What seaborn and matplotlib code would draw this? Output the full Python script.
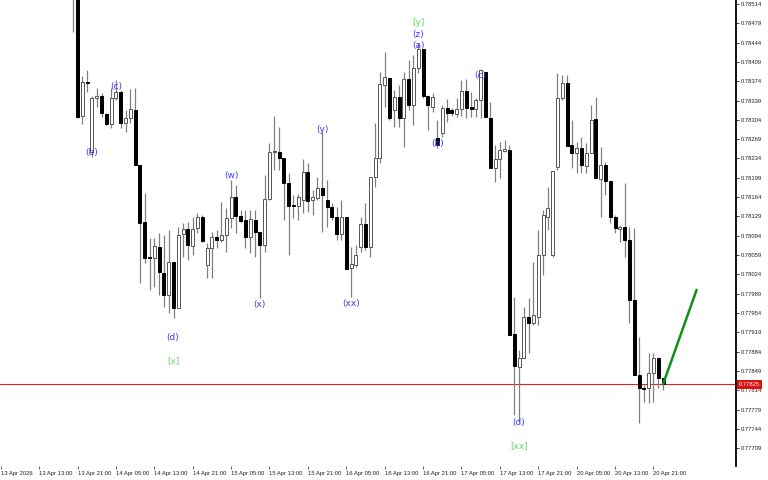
import numpy as np
import pandas as pd
import matplotlib
matplotlib.use("Agg")
import matplotlib.pyplot as plt
import matplotlib.transforms as mtransforms
import seaborn as sns

# ---- data (hourly OHLC, bar index 1 = 13 Apr 20:00) ----
bars = list(range(1, 125))
opens = [0.78566, 0.78527, 0.78311, 0.78372, 0.78246, 0.78344, 0.78347, 0.78315, 0.78297, 0.78344,
         0.78355, 0.78298, 0.78307, 0.78322, 0.78222, 0.78119, 0.78056, 0.78054, 0.78074, 0.78027,
         0.77987, 0.78046, 0.77963, 0.78097, 0.78106, 0.78075, 0.78108, 0.78128, 0.78041, 0.78072,
         0.78092, 0.78086, 0.78095, 0.78126, 0.78164, 0.78130, 0.78123, 0.78092, 0.78123, 0.78101,
         0.78077, 0.78161, 0.78246, 0.78246, 0.78235, 0.78190, 0.78150, 0.78148, 0.78159, 0.78210,
         0.78159, 0.78162, 0.78181, 0.78159, 0.78146, 0.78128, 0.78097, 0.78128, 0.78036, 0.78041,
         0.78074, 0.78115, 0.78074, 0.78200, 0.78235, 0.78367, 0.78380, 0.78322, 0.78345, 0.78307,
         0.78378, 0.78331, 0.78398, 0.78432, 0.78347, 0.78327, 0.78271, 0.78280, 0.78326, 0.78322,
         0.78315, 0.78324, 0.78356, 0.78327, 0.78324, 0.78340, 0.78391, 0.78307, 0.78217, 0.78233,
         0.78248, 0.78249, 0.77916, 0.77856, 0.77872, 0.77947, 0.77936, 0.77947, 0.78059, 0.78128,
         0.78059, 0.78219, 0.78344, 0.78371, 0.78258, 0.78244, 0.78253, 0.78220, 0.78244, 0.78306,
         0.78197, 0.78222, 0.78193, 0.78128, 0.78106, 0.78110, 0.78086, 0.77978, 0.77842, 0.77819,
         0.77818, 0.77845, 0.77872, 0.77836]
highs = [0.78594, 0.78539, 0.78384, 0.78394, 0.78347, 0.78362, 0.78353, 0.78316, 0.78362, 0.78376,
         0.78358, 0.78322, 0.78360, 0.78362, 0.78222, 0.78171, 0.78090, 0.78090, 0.78099, 0.78095,
         0.78104, 0.78046, 0.78110, 0.78117, 0.78119, 0.78128, 0.78135, 0.78132, 0.78081, 0.78101,
         0.78104, 0.78155, 0.78144, 0.78195, 0.78186, 0.78141, 0.78141, 0.78141, 0.78141, 0.78101,
         0.78204, 0.78262, 0.78311, 0.78291, 0.78235, 0.78207, 0.78168, 0.78170, 0.78233, 0.78226,
         0.78177, 0.78200, 0.78282, 0.78195, 0.78153, 0.78146, 0.78159, 0.78128, 0.78074, 0.78077,
         0.78128, 0.78153, 0.78200, 0.78298, 0.78391, 0.78427, 0.78380, 0.78358, 0.78367, 0.78391,
         0.78412, 0.78422, 0.78443, 0.78432, 0.78349, 0.78353, 0.78304, 0.78331, 0.78342, 0.78326,
         0.78344, 0.78376, 0.78378, 0.78355, 0.78344, 0.78396, 0.78391, 0.78336, 0.78258, 0.78264,
         0.78268, 0.78258, 0.77983, 0.77887, 0.77965, 0.77981, 0.78046, 0.78104, 0.78141, 0.78182,
         0.78211, 0.78389, 0.78385, 0.78385, 0.78304, 0.78264, 0.78273, 0.78262, 0.78331, 0.78345,
         0.78255, 0.78228, 0.78193, 0.78132, 0.78114, 0.78190, 0.78110, 0.78108, 0.77911, 0.77824,
         0.77882, 0.77882, 0.77874, 0.77836]
lows = [0.78463, 0.78307, 0.78297, 0.78355, 0.78237, 0.78327, 0.78309, 0.78295, 0.78289, 0.78340,
        0.78289, 0.78282, 0.78298, 0.78222, 0.78008, 0.78045, 0.77996, 0.78001, 0.77987, 0.77965,
        0.77954, 0.77945, 0.77963, 0.78056, 0.78050, 0.78059, 0.78099, 0.78083, 0.78018, 0.78018,
        0.78072, 0.78083, 0.78065, 0.78108, 0.78099, 0.78119, 0.78072, 0.78063, 0.78056, 0.77981,
        0.78065, 0.78159, 0.78213, 0.78213, 0.78123, 0.78059, 0.78126, 0.78123, 0.78135, 0.78137,
        0.78132, 0.78159, 0.78101, 0.78110, 0.78123, 0.78086, 0.78086, 0.78034, 0.77983, 0.78037,
        0.78065, 0.78068, 0.78056, 0.78182, 0.78226, 0.78327, 0.78304, 0.78291, 0.78291, 0.78255,
        0.78322, 0.78295, 0.78389, 0.78344, 0.78286, 0.78318, 0.78253, 0.78273, 0.78300, 0.78311,
        0.78309, 0.78311, 0.78307, 0.78309, 0.78309, 0.78307, 0.78309, 0.78217, 0.78191, 0.78199,
        0.78246, 0.77914, 0.77769, 0.77757, 0.77872, 0.77882, 0.77932, 0.77932, 0.78023, 0.78104,
        0.78056, 0.78213, 0.78340, 0.78257, 0.78217, 0.78208, 0.78208, 0.78208, 0.78244, 0.78199,
        0.78128, 0.78168, 0.78117, 0.78099, 0.78083, 0.78056, 0.77936, 0.77842, 0.77755, 0.77793,
        0.77791, 0.77793, 0.77818, 0.77815]
closes = [0.78527, 0.78309, 0.78373, 0.78370, 0.78344, 0.78347, 0.78316, 0.78297, 0.78344, 0.78355,
          0.78298, 0.78307, 0.78324, 0.78222, 0.78117, 0.78054, 0.78053, 0.78075, 0.78028, 0.77987,
          0.78046, 0.77963, 0.78095, 0.78106, 0.78077, 0.78106, 0.78128, 0.78085, 0.78072, 0.78092,
          0.78086, 0.78095, 0.78126, 0.78164, 0.78130, 0.78121, 0.78092, 0.78124, 0.78101, 0.78077,
          0.78161, 0.78246, 0.78248, 0.78235, 0.78190, 0.78148, 0.78148, 0.78164, 0.78210, 0.78157,
          0.78164, 0.78181, 0.78168, 0.78146, 0.78128, 0.78097, 0.78128, 0.78034, 0.78043, 0.78059,
          0.78115, 0.78074, 0.78200, 0.78235, 0.78369, 0.78382, 0.78307, 0.78345, 0.78307, 0.78378,
          0.78331, 0.78398, 0.78432, 0.78347, 0.78331, 0.78345, 0.78258, 0.78326, 0.78316, 0.78316,
          0.78324, 0.78356, 0.78326, 0.78324, 0.78340, 0.78394, 0.78309, 0.78217, 0.78233, 0.78249,
          0.78251, 0.77914, 0.77858, 0.77872, 0.77947, 0.77936, 0.77950, 0.78059, 0.78132, 0.78144,
          0.78211, 0.78344, 0.78371, 0.78257, 0.78244, 0.78253, 0.78222, 0.78244, 0.78304, 0.78199,
          0.78222, 0.78193, 0.78128, 0.78108, 0.78110, 0.78086, 0.77978, 0.77842, 0.77818, 0.77817,
          0.77845, 0.77872, 0.77836, 0.77825]

current_price = 0.77825
current_label = "0.77825"

# projected move (green line): bar offsets from last bar and prices
proj_offset = [0, 7]
proj_price = [0.77825, 0.77996]

# wave labels
ann_text = ["(b)", "(c)", "(d)", "[x]", "(w)", "(x)", "(y)", "(xx)", "[y]", "(z)", "(a)",
            "(b)", "(c)", "(d)", "[xx]"]
ann_bar = [5, 10, 21.8, 22, 34, 40, 53, 59, 73, 73, 73, 77, 86, 94, 94]
ann_price = [0.78244, 0.78364, 0.77909, 0.77867, 0.78204, 0.77970, 0.78287, 0.77972,
             0.78481, 0.78458, 0.78438, 0.78262, 0.78385, 0.77755, 0.77713]
ann_color = ["blue"] * 8
ann_color[3] = "green"
ann_color += ["green", "blue", "blue", "blue", "blue", "blue", "green"]

# axis ticks
ytick_labels = ["0.78514", "0.78479", "0.78444", "0.78409", "0.78374", "0.78339", "0.78304",
                "0.78269", "0.78234", "0.78199", "0.78164", "0.78129", "0.78094", "0.78059",
                "0.78024", "0.77989", "0.77954", "0.77919", "0.77884", "0.77849", "0.77814",
                "0.77779", "0.77744", "0.77709"]
xtick_labels = ["13 Apr 2026", "13 Apr 13:00", "13 Apr 21:00", "14 Apr 05:00", "14 Apr 13:00",
                "14 Apr 21:00", "15 Apr 05:00", "15 Apr 13:00", "15 Apr 21:00", "16 Apr 05:00",
                "16 Apr 13:00", "16 Apr 21:00", "17 Apr 05:00", "17 Apr 13:00", "17 Apr 21:00",
                "20 Apr 05:00", "20 Apr 13:00", "20 Apr 21:00"]
xtick_bars = [-14, -6, 2, 10, 18, 26, 34, 42, 50, 58, 66, 74, 82, 90, 98, 106, 114, 122]

# ---- plotting ----
sns.set_theme(style="white")
plt.rcParams["font.family"] = ["Liberation Sans", "DejaVu Sans"]

df = pd.DataFrame({"bar": bars, "open": opens, "high": highs, "low": lows, "close": closes})
df["bull"] = df["close"] >= df["open"]

fig = plt.figure(figsize=(7.68, 4.80), dpi=100)
ax = fig.add_axes([0.0, 1 - 466 / 480, 736 / 768, 466 / 480])
ax.set_facecolor("white")

# wicks
ax.vlines(df["bar"], df["low"], df["high"], color="#808080", linewidth=0.9, zorder=2)

# bodies
body_w = 0.62
bottom = np.minimum(df["open"], df["close"])
height = np.maximum(np.abs(df["close"] - df["open"]), 0.000012)
bull = df["bull"].values
ax.bar(df["bar"][bull], height[bull], bottom=bottom[bull], width=body_w,
       facecolor="white", edgecolor="#555555", linewidth=0.7, zorder=3)
ax.bar(df["bar"][~bull], height[~bull], bottom=bottom[~bull], width=body_w,
       facecolor="black", edgecolor="black", linewidth=0.7, zorder=3)

# current price line
ax.axhline(current_price, color="#e02020", linewidth=0.8, zorder=1)

# projection line
last_bar = bars[-1]
proj = pd.DataFrame({"bar": [last_bar + o for o in proj_offset], "price": proj_price})
sns.lineplot(data=proj, x="bar", y="price", color="#139013", linewidth=1.8, ax=ax, zorder=5)

# wave labels
color_map = {"blue": "#3a3aff", "green": "#66d966"}
for t, b, p, c in zip(ann_text, ann_bar, ann_price, ann_color):
    ax.text(b, p, t, color=color_map[c], fontsize=6.5, ha="center", va="center",
            family="DejaVu Sans", zorder=6)

# axes limits
ax.set_xlim(-14.15, 139.2)
ax.set_ylim(0.776768, 0.785212)

# y axis on the right
ax.yaxis.tick_right()
ax.set_yticks([float(v) for v in ytick_labels])
ax.set_yticklabels(ytick_labels)
ax.tick_params(axis="y", which="both", right=True, left=False, direction="out",
               length=2.5, width=0.6, pad=1, labelsize=4.2, colors="#222222")

ax.set_xticks(xtick_bars)
ax.set_xticklabels(xtick_labels, ha="left")
ax.tick_params(axis="x", which="both", bottom=True, direction="out",
               length=2.0, width=0.5, pad=1.5, labelsize=4.2, colors="#222222")

for s in ["top", "left", "bottom"]:
    ax.spines[s].set_visible(False)
ax.spines["right"].set_color("black")
ax.spines["right"].set_linewidth(1.3)
ax.set_xlabel("")
ax.set_ylabel("")
ax.grid(False)

# price tag
trans = mtransforms.blended_transform_factory(ax.transAxes, ax.transData)
ax.text(1.004, current_price, current_label, transform=trans, ha="left", va="center",
        fontsize=4.2, color="white", zorder=10, clip_on=False,
        bbox=dict(boxstyle="square,pad=0.35", facecolor="#dd1111", edgecolor="none"))

fig.savefig("out.png", dpi=100, facecolor="white")
